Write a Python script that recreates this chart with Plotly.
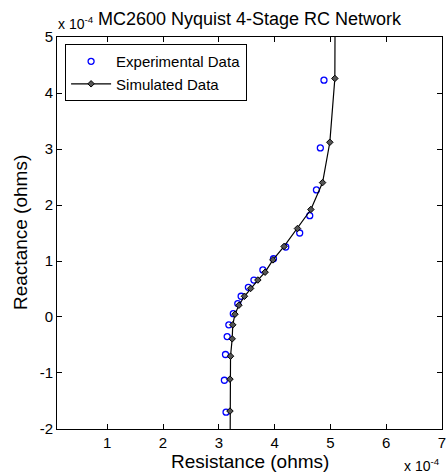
import plotly.graph_objects as go

# values in units of 1e-4 ohms
exp_resistance = [3.13, 3.10, 3.12, 3.15, 3.18, 3.26, 3.34, 3.40, 3.53, 3.63, 3.79, 3.98,
                  4.20, 4.45, 4.63, 4.75, 4.82, 4.885]
exp_reactance = [-1.70, -1.13, -0.67, -0.35, -0.14, 0.06, 0.24, 0.37, 0.53, 0.66, 0.84, 1.04,
                 1.25, 1.50, 1.81, 2.27, 3.02, 4.23]

sim_resistance = [3.20, 3.20, 3.20, 3.21, 3.24, 3.25, 3.29, 3.36, 3.46, 3.57, 3.70, 3.83,
                  3.97, 4.17, 4.41, 4.65, 4.86, 4.99, 5.08, 5.09]
sim_reactance = [-3.00, -1.68, -1.11, -0.70, -0.39, -0.14, 0.05, 0.21, 0.37, 0.51, 0.66, 0.80,
                 1.02, 1.26, 1.58, 1.92, 2.40, 3.12, 4.26, 7.00]

x_ticks = [1, 2, 3, 4, 5, 6, 7]
y_ticks = [-2, -1, 0, 1, 2, 3, 4, 5]

FONT = "Liberation Sans, Arial, sans-serif"

fig = go.Figure()
fig.add_trace(go.Scatter(
    x=exp_resistance, y=exp_reactance, mode="markers", name="Experimental Data",
    marker=dict(symbol="circle-open", size=6, color="#0000ff", line=dict(width=1.3)),
))
fig.add_trace(go.Scatter(
    x=sim_resistance, y=sim_reactance, mode="lines+markers", name="Simulated Data",
    line=dict(color="black", width=1.2),
    marker=dict(symbol="diamond", size=5, color="#555555", line=dict(color="black", width=1)),
))

axis_common = dict(
    showgrid=False, zeroline=False, showline=True, linecolor="black", linewidth=1,
    mirror="ticks", ticks="inside", ticklen=5, tickcolor="black", tickwidth=1,
    tickfont=dict(family=FONT, size=15, color="black"), ticklabeloverflow="allow",
    automargin=False,
)
fig.update_xaxes(range=[0.1, 7.0005], tickvals=x_ticks, ticktext=[str(v) for v in x_ticks], **axis_common)
fig.update_yaxes(range=[-2.0005, 5.0005], tickvals=y_ticks, ticktext=[str(v) for v in y_ticks], **axis_common)

fig.update_layout(
    width=446, height=476,
    margin=dict(l=57, r=4, t=37, b=47, autoexpand=False),
    paper_bgcolor="white", plot_bgcolor="white",
    font=dict(family=FONT, color="black"),
    showlegend=True,
    legend=dict(x=0.021, y=0.982, xanchor="left", yanchor="top",
                bordercolor="black", borderwidth=1, bgcolor="white",
                font=dict(family=FONT, size=15, color="black"),
                itemwidth=40, tracegroupgap=0),
    annotations=[
        dict(text="MC2600 Nyquist 4-Stage RC Network", xref="paper", yref="paper",
             x=0.5, y=1.0, yshift=18, xanchor="center", yanchor="middle", showarrow=False,
             font=dict(family=FONT, size=18, color="black")),
        dict(text="x 10<sup>-4</sup>", xref="paper", yref="paper", x=0, y=1.0, xshift=-1,
             yshift=14, xanchor="left", yanchor="middle", showarrow=False,
             font=dict(family=FONT, size=14, color="black")),
        dict(text="x 10<sup>-4</sup>", xref="paper", yref="paper", x=1.0, y=0, xshift=0,
             yshift=-36, xanchor="right", yanchor="middle", showarrow=False,
             font=dict(family=FONT, size=14, color="black")),
        dict(text="Resistance (ohms)", xref="paper", yref="paper", x=0.5, y=0, yshift=-32,
             xanchor="center", yanchor="middle", showarrow=False,
             font=dict(family=FONT, size=19, color="black")),
        dict(text="Reactance (ohms)", xref="paper", yref="paper", x=0, y=0.5, xshift=-37,
             xanchor="center", yanchor="middle", showarrow=False, textangle=-90,
             font=dict(family=FONT, size=19, color="black")),
    ],
)

fig.write_html("out.html")
